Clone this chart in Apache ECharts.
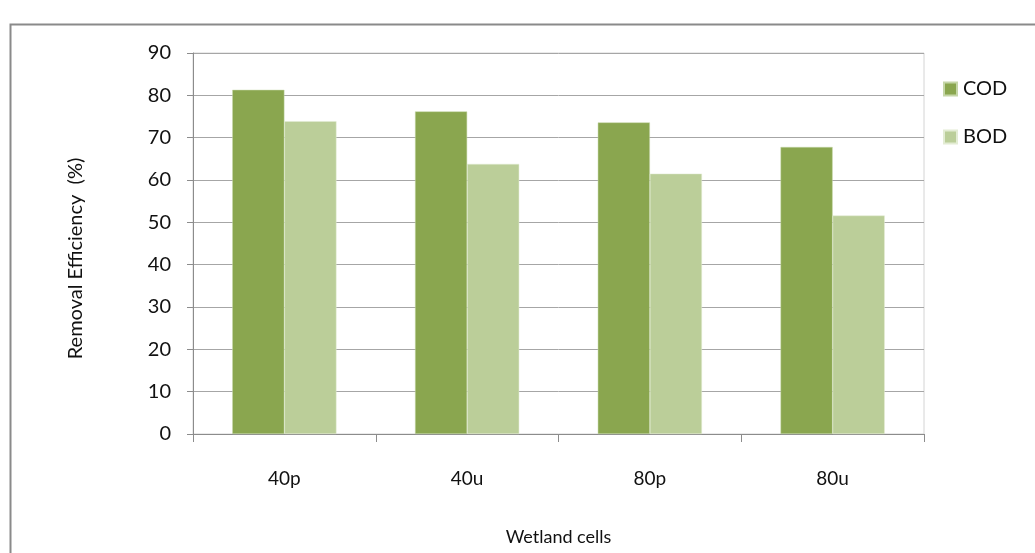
<!DOCTYPE html>
<html>
<head>
<meta charset="utf-8">
<script src="https://cdn.jsdelivr.net/npm/echarts@6/dist/echarts.min.js"></script>
<style>
html,body{margin:0;padding:0;background:#fff;}
#chart{width:1035px;height:553px;}
</style>
</head>
<body>
<div id="chart"></div>
<script>
const categories = ['40p', '40u', '80p', '80u'];
const codValues = [81.3, 76.2, 73.6, 67.8];
const bodValues = [73.9, 63.8, 61.5, 51.6];
const seriesNames = ['COD', 'BOD'];
const yTitle = 'Removal Efficiency  (%)';
const xTitle = 'Wetland cells';

const FONT = 'Lato';
const chart = echarts.init(document.getElementById('chart'), null, {renderer: 'canvas'});
chart.setOption({
  animation: false,
  backgroundColor: '#fff',
  graphic: [{
    type: 'rect',
    shape: {x: 10.5, y: 24.5, width: 1100, height: 600},
    style: {fill: 'none', stroke: '#8a8a8a', lineWidth: 2},
    silent: true
  }],
  grid: {left: 193, right: 111, top: 53, bottom: 119, show: true, borderColor: '#d4d4d4', borderWidth: 1},
  legend: {
    orient: 'vertical',
    left: 938, top: 74,
    itemWidth: 13, itemHeight: 13, itemGap: 28,
    icon: 'rect',
    textStyle: {fontFamily: FONT, fontSize: 20, color: '#111', padding: [0,0,0,1]},
    data: seriesNames
  },
  xAxis: {
    type: 'category',
    data: categories,
    name: xTitle,
    nameLocation: 'middle',
    nameGap: 94,
    nameTextStyle: {fontFamily: FONT, fontSize: 18, color: '#111'},
    axisLine: {lineStyle: {color: '#8c8c8c', width: 1}},
    axisTick: {show: true, length: 8, lineStyle: {color: '#8c8c8c'}},
    axisLabel: {fontFamily: FONT, fontSize: 19, color: '#111', margin: 35}
  },
  yAxis: {
    type: 'value',
    min: 0, max: 90, interval: 10,
    name: yTitle,
    nameLocation: 'middle',
    nameGap: 107,
    nameTextStyle: {fontFamily: FONT, fontSize: 20, color: '#111', padding: [0, 0, 0, -30]},
    axisLine: {show: true, lineStyle: {color: '#8c8c8c', width: 1}},
    axisTick: {show: true, length: 6, lineStyle: {color: '#8c8c8c'}},
    axisLabel: {fontFamily: FONT, fontSize: 20, color: '#111', margin: 22},
    splitLine: {show: true, lineStyle: {color: '#a6a6a6', width: 1}}
  },
  series: [
    {name: seriesNames[0], type: 'bar', data: codValues, barGap: '0%', barCategoryGap: '43%',
     itemStyle: {color: '#8aa64f', borderColor: '#c5d6a8', borderWidth: 0.5}},
    {name: seriesNames[1], type: 'bar', data: bodValues, barGap: '0%', barCategoryGap: '43%',
     itemStyle: {color: '#bbce99', borderColor: '#e3ecd4', borderWidth: 0.5}}
  ]
});
</script>
</body>
</html>
